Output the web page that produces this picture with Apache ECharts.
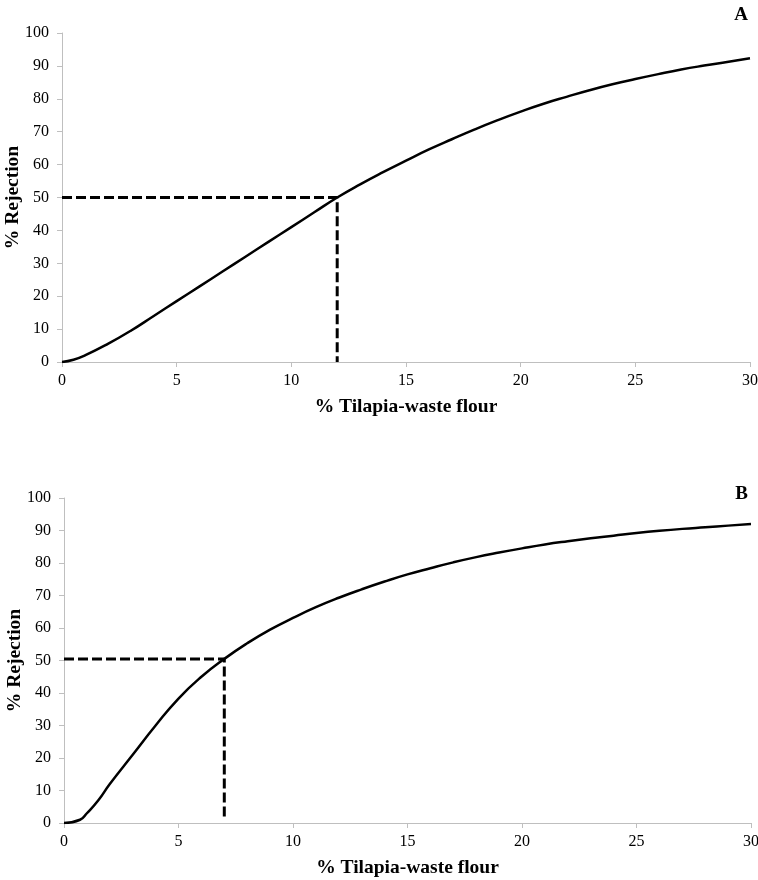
<!DOCTYPE html>
<html><head><meta charset="utf-8">
<script src="https://cdn.jsdelivr.net/npm/echarts@6/dist/echarts.min.js"></script>
<style>html,body{margin:0;padding:0;background:#fff}#c{width:758px;height:880px}</style>
</head><body><div id="c"></div>
<script>
// Panel A curve (% Tilapia-waste flour, % Rejection)
const xA = [0,0.5,1,2,3,4,5,6,7,8,9,10,11,12,13,14,15,16,17,18,19,20,21,22,23,24,25,26,27,28,29,30];
const yA = [0,0.7,2,5.5,9.5,14,18.5,23,27.5,32,36.5,41,45.5,50,54,57.7,61.2,64.6,67.7,70.7,73.5,76.1,78.5,80.6,82.6,84.4,86,87.5,88.9,90.1,91.2,92.3];
// Panel B curve
const xB = [0,0.7,1,1.5,2,3,4,5,6,7,8,9,10,11,12,13,14,15,16,17,18,19,20,21,22,23,24,25,26,27,28,29,30];
const yB = [0,1,3,7,12,21,30,38.3,45,50.5,55.3,59.5,63.1,66.4,69.3,71.9,74.3,76.5,78.4,80.2,81.8,83.2,84.5,85.7,86.7,87.6,88.4,89.2,89.9,90.5,91,91.5,92];
// Dashed reference lines (x, y)
const refAx = [0,12,12], refAy = [50,50,0];
const refBx = [0,7,7], refBy = [50.5,50.5,1.8];
const xTicks = {min:0,max:30,interval:5};
const yTicks = {min:0,max:100,interval:10};
const panelLabels = ['A','B'];
const xTitle = '% Tilapia-waste flour';
const yTitle = '% Rejection';

const zip = (a,b)=>a.map((v,i)=>[v,b[i]]);
const font = 'Liberation Serif, Times New Roman, serif';
const axisCommon = {
  axisLine:{show:true,lineStyle:{color:'#bfbfbf',width:1}},
  axisTick:{show:true,length:5,lineStyle:{color:'#bfbfbf'}},
  splitLine:{show:false},
  axisLabel:{color:'#000',fontFamily:font,fontSize:16}
};
function xAxis(idx){return Object.assign({},axisCommon,{type:'value',gridIndex:idx,min:xTicks.min,max:xTicks.max,interval:xTicks.interval,
  name:xTitle,nameLocation:'middle',nameGap:35,nameMoveOverlap:false,nameTextStyle:{color:'#000',fontFamily:font,fontSize:19.5,fontWeight:'bold'},
  axisLabel:Object.assign({},axisCommon.axisLabel,{margin:11})});}
function yAxis(idx){return Object.assign({},axisCommon,{type:'value',gridIndex:idx,min:yTicks.min,max:yTicks.max,interval:yTicks.interval,
  name:yTitle,nameLocation:'middle',nameGap:39,nameMoveOverlap:false,nameTextStyle:{color:'#000',fontFamily:font,fontSize:19.5,fontWeight:'bold'},
  axisLabel:Object.assign({},axisCommon.axisLabel,{margin:13})});}
const curve = (data,i)=>({type:'line',xAxisIndex:i,yAxisIndex:i,data,smooth:0.5,showSymbol:false,silent:true,
  lineStyle:{color:'#000',width:2.5}});
const dash = (data,i)=>({type:'line',xAxisIndex:i,yAxisIndex:i,data,showSymbol:false,silent:true,
  lineStyle:{color:'#000',width:3,type:[10,4]}});

const chart = echarts.init(document.getElementById('c'),null,{renderer:'canvas'});
chart.setOption({
  animation:false,
  backgroundColor:'#fff',
  title:[
    {text:panelLabels[0],right:5,top:1,textStyle:{fontFamily:font,fontSize:19,fontWeight:'bold',color:'#000'}},
    {text:panelLabels[1],right:5,top:480,textStyle:{fontFamily:font,fontSize:19,fontWeight:'bold',color:'#000'}}
  ],
  grid:[
    {left:62,top:33,width:688,height:329,outerBoundsMode:'none',containLabel:false},
    {left:64,top:498,width:687,height:325,outerBoundsMode:'none',containLabel:false}
  ],
  xAxis:[xAxis(0),xAxis(1)],
  yAxis:[yAxis(0),yAxis(1)],
  series:[
    curve(zip(xA,yA),0), dash(zip(refAx,refAy),0),
    curve(zip(xB,yB),1), dash(zip(refBx,refBy),1)
  ]
});
</script></body></html>
